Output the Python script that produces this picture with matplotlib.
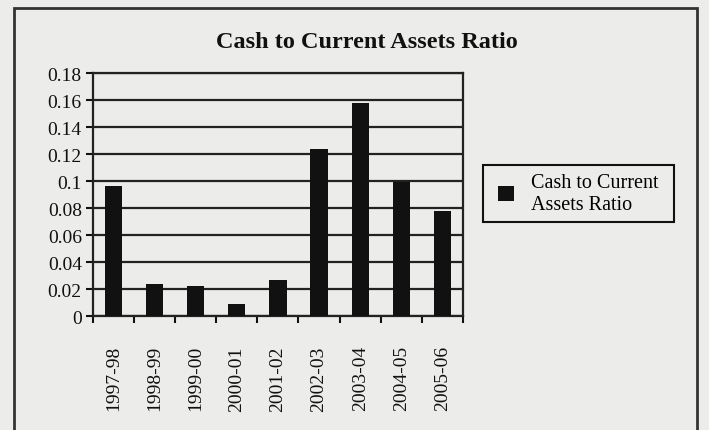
import matplotlib.pyplot as plt
from matplotlib.patches import Rectangle

# values
years = ['1997-98', '1998-99', '1999-00', '2000-01', '2001-02',
         '2002-03', '2003-04', '2004-05', '2005-06']
ratio = [0.096, 0.024, 0.0225, 0.009, 0.027, 0.124, 0.158, 0.099, 0.078]
yticks = [0, 0.02, 0.04, 0.06, 0.08, 0.1, 0.12, 0.14, 0.16, 0.18]
ytick_labels = ['0', '0.02', '0.04', '0.06', '0.08', '0.1', '0.12', '0.14', '0.16', '0.18']

bg = '#ececea'
ink = '#111111'
plt.rcParams['font.family'] = ['Liberation Serif', 'DejaVu Serif']

fig = plt.figure(figsize=(7.09, 4.31), dpi=100, facecolor=bg)
ax = fig.add_axes([0.131, 0.2645, 0.522, 0.5635], facecolor=bg)

x = list(range(len(years)))
ax.bar(x, ratio, width=0.42, color=ink, zorder=3, label='Cash to Current\nAssets Ratio')

ax.set_xlim(-0.5, len(years) - 0.5)
ax.set_ylim(0, 0.18)
ax.set_yticks(yticks)
ax.set_yticklabels(ytick_labels, fontsize=14)
ax.yaxis.grid(True, color='#222222', linewidth=1.6, zorder=1)
ax.tick_params(axis='y', direction='out', length=5, width=1.5, colors=ink, pad=3)

# category labels, tick marks between categories
ax.set_xticks(x)
ax.set_xticklabels(years, rotation=90, fontsize=14)
ax.tick_params(axis='x', which='major', length=0, pad=21, colors=ink)
ax.set_xticks([i + 0.5 for i in range(-1, len(years))], minor=True)
ax.tick_params(axis='x', which='minor', direction='out', length=5, width=1.5, color=ink)

for s in ax.spines.values():
    s.set_color('#222222')
    s.set_linewidth(1.6)

# title is centred over the whole chart frame, not the plot area
fig.text(0.517, 0.902, 'Cash to Current Assets Ratio', ha='center', va='center',
         fontsize=17.5, fontweight='bold', color=ink)

# legend box drawn by hand so its padding can match the scan
fig.patches.append(Rectangle((0.681, 0.4826), 0.2694, 0.1323, transform=fig.transFigure,
                             fill=False, edgecolor=ink, linewidth=1.5))
fig.legend(loc='center left', bbox_to_anchor=(0.7024, 0.5487), fontsize=14.5,
           frameon=False, borderpad=0, borderaxespad=0,
           handlelength=0.8, handleheight=0.8, handletextpad=0.85)

# outer chart border from the scan
fig.patches.append(Rectangle((0.02, -0.05), 0.963, 1.029, transform=fig.transFigure,
                             fill=False, edgecolor='#333333', linewidth=2))

fig.savefig('out.png', dpi=100, facecolor=bg)
